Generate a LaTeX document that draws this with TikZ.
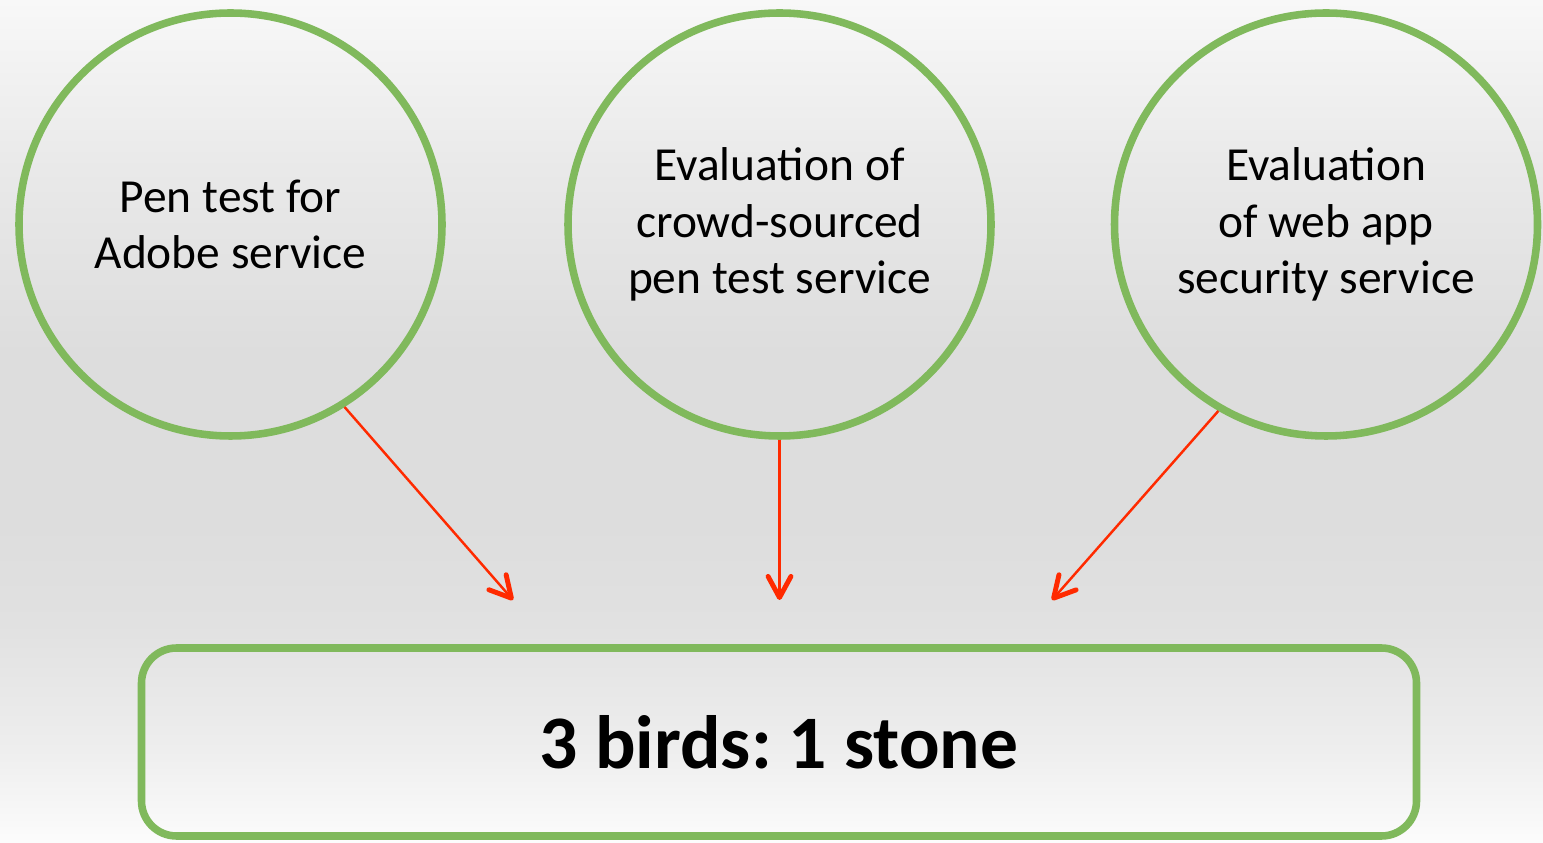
\documentclass[tikz,border=0pt]{standalone}
\usepackage{fontspec}
\setmainfont{Carlito}
\usepackage{xcolor}
\usetikzlibrary{arrows.meta, positioning}
\definecolor{zelena}{HTML}{80B95C}
\definecolor{cervena}{HTML}{FF2A00}
\definecolor{sedaA}{HTML}{FCFCFC}
\definecolor{sedaB}{HTML}{EFEFEF}
\definecolor{sedaC}{HTML}{E1E1E1}
\definecolor{sedaD}{HTML}{DDDDDD}
\definecolor{sedaE}{HTML}{E9E9E9}
\definecolor{sedaF}{HTML}{F8F8F8}
\pgfdeclareverticalshading{pozadi}{100bp}{color(0bp)=(sedaA); color(25bp)=(sedaA);
  color(30bp)=(sedaB); color(38bp)=(sedaC); color(44bp)=(sedaD); color(54bp)=(sedaD);
  color(65bp)=(sedaE); color(75bp)=(sedaF); color(100bp)=(sedaF)}

\tikzset{
  kruh/.style={circle, draw=zelena, line width=4.3pt, minimum size=8.46cm, inner sep=0pt,
    align=center, font=\fontsize{27}{32}\selectfont},
  ramecek/.style={rectangle, rounded corners=0.7cm, draw=zelena, line width=4.3pt,
    minimum width=25.5cm, minimum height=3.76cm, font=\fontsize{43}{48}\selectfont\bfseries},
  sipka/.style={->, cervena, line width=1.4pt}
}

\begin{document}
\frenchspacing
\begin{tikzpicture}[>={Straight Barb[length=12pt, width=13pt, line width=2.8pt, round]}]
  % Pozadi
  \shade[shading=pozadi] (0,0) rectangle (30.86,16.86);
  \useasboundingbox (0,0) rectangle (30.86,16.86);
  % Kruhy
  \node[kruh] (adobe) at (4.61,12.37) {Pen test for\\Adobe service};
  \node[kruh] (crowd) at (15.59,12.37) {Evaluation of\\crowd-sourced\\pen test service};
  \node[kruh] (webapp) at (26.52,12.37) {Evaluation\\of web app\\security service};
  % Ramecek
  \node[ramecek] (kamen) at (15.58,2.02) {3 birds: 1 stone};
  % Konce sipek
  \coordinate (k1) at (10.26,4.86);
  \coordinate (k2) at (15.59,4.86);
  \coordinate (k3) at (21.04,4.86);
  % Sipky
  \draw[sipka] (adobe.-58) -- (k1);
  \draw[sipka] (crowd.south) -- (k2);
  \draw[sipka] (webapp.-120) -- (k3);
\end{tikzpicture}
\end{document}
